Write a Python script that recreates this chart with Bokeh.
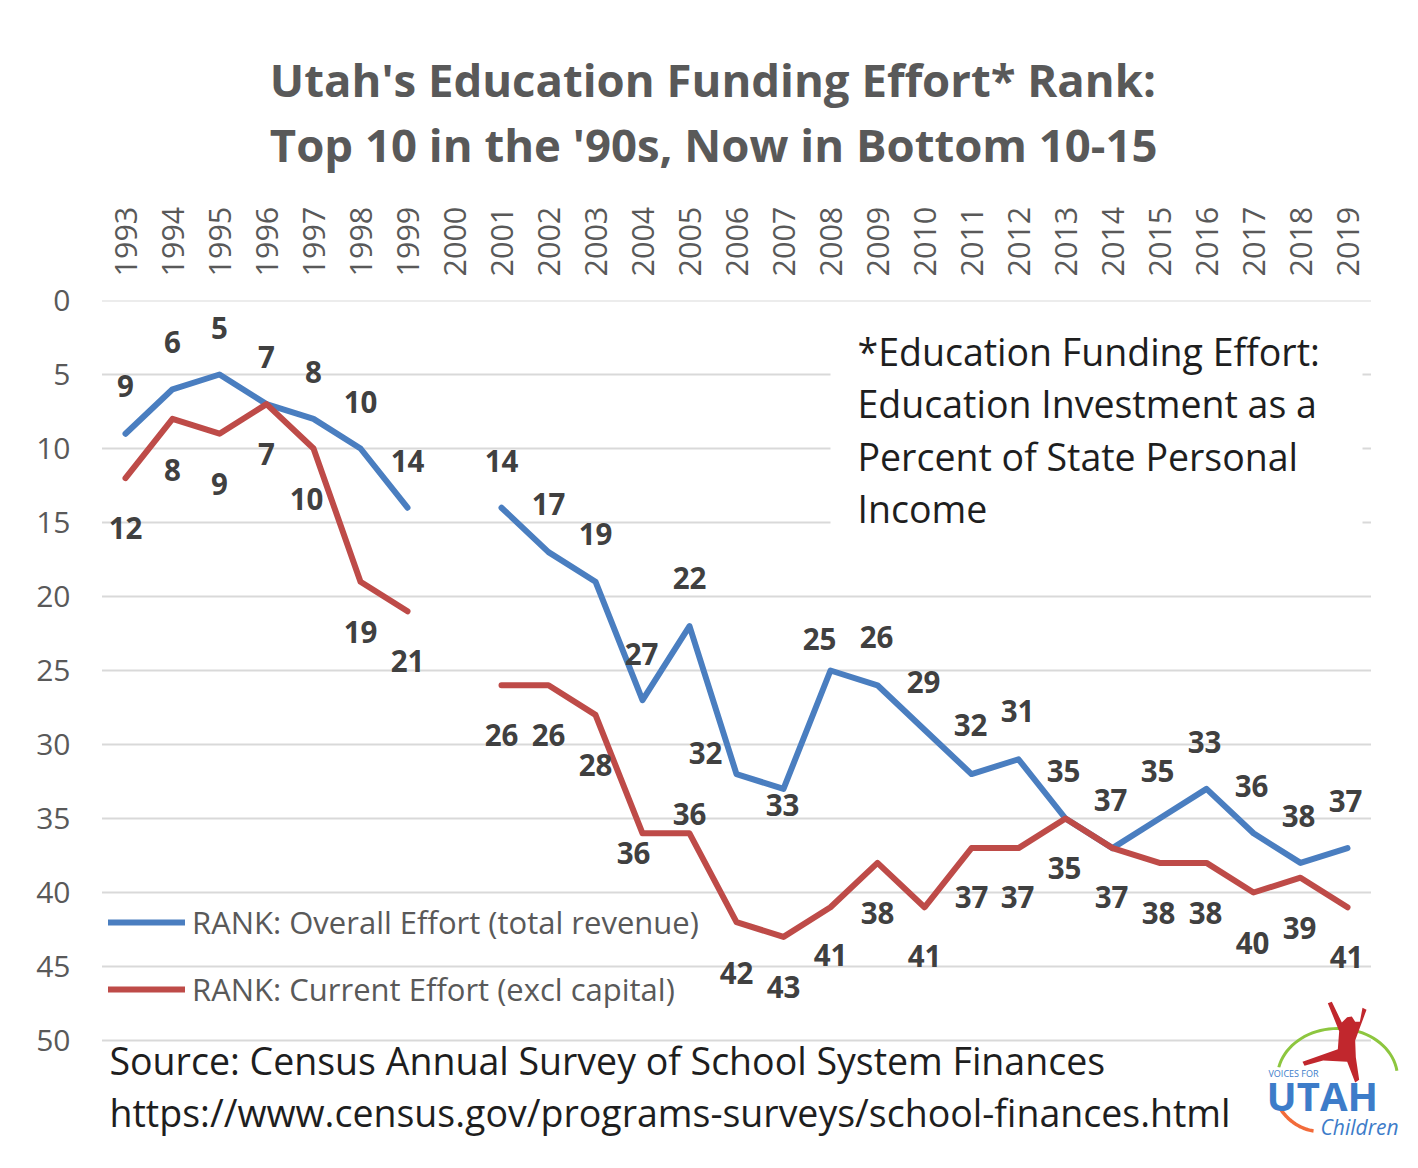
import numpy as np
from bokeh.plotting import figure
from bokeh.models import (Range1d, FixedTicker, Label, Legend, LegendItem,
                          BoxAnnotation, PolyAnnotation, ColumnDataSource, Title)
from bokeh.core.properties import value
from bokeh.embed import file_html
from bokeh.resources import INLINE

# ---------------- data ----------------
years = [str(y) for y in range(1993, 2020)]
overall = [9, 6, 5, 7, 8, 10, 14, None, 14, 17, 19, 27, 22, 32, 33, 25, 26,
           29, 32, 31, 35, 37, 35, 33, 36, 38, 37]
current = [12, 8, 9, 7, 10, 19, 21, None, 26, 26, 28, 36, 36, 42, 43, 41, 38,
           41, 37, 37, 35, 37, 38, 38, 40, 39, 41]
y_ticks = [0, 5, 10, 15, 20, 25, 30, 35, 40, 45, 50]
series_names = ["RANK: Overall Effort (total revenue)",
                "RANK: Current Effort (excl capital)"]
title_lines = ["Utah's Education Funding Effort* Rank:",
               "Top 10 in the '90s, Now in Bottom 10-15"]
note_lines = ["*Education Funding Effort:", "Education Investment as a",
              "Percent of State Personal", "Income"]
source_lines = ["Source: Census Annual Survey of School System Finances",
                "https://www.census.gov/programs-surveys/school-finances.html"]

# label placement offsets (pixels) for the data labels
blue_dx = [0, 0, 0, 0, 0, 0, 0, 0, 0, 0, 0, -1, 0, -31, -1, -11, -1, -1, -1, -1, -2, -2, -2, -2, -2, -2, -2]
blue_dy = [-48, -47, -47, -47, -47, -47, -47, 0, -47, -48, -48, -46, -48, -21, 16, -32, -48, -48, -49, -48, -48, -48, -48, -47, -47, -47, -47]
red_dx = [0, 0, 0, 0, -7, 0, 0, 0, 0, 0, 0, -9, 0, 0, 0, 0, 0, 0, 0, -1, -1, -1, -1, -1, -1, -1, -1]
red_dy = [50, 51, 50, 50, 50, 50, 50, 0, 50, 50, 50, 20, -19, 51, 50, 48, 50, 49, 49, 49, 49, 49, 50, 50, 50, 50, 50]

BLUE = "#4A7EC0"
RED = "#BE4B48"
GRID = "#D9D9D9"
AXIS_TXT = "#595959"
LBL_TXT = "#404040"
DARK = "#1E1E1E"
LOGO_BLUE = "#3D7CC9"
FONT = "Open Sans"

# ---------------- layout (pixels) ----------------
W, H = 1410, 1160
FRAME_L, FRAME_T = 101, 300          # frame left / top edge
X0_PX, PX_PER_YEAR = 125, 47.0       # pixel of first category, spacing
PX_PER_RANK = 14.8

xs = list(range(len(years)))
x_range = Range1d((FRAME_L - X0_PX) / PX_PER_YEAR, (W - X0_PX) / PX_PER_YEAR)
y_range = Range1d((H - FRAME_T) / PX_PER_RANK, 0)

p = figure(width=W, height=H, output_backend="svg", toolbar_location=None,
           x_range=x_range, y_range=y_range, x_axis_location="above",
           min_border_left=FRAME_L, min_border_right=0,
           min_border_top=FRAME_T, min_border_bottom=0)
p.outline_line_color = None
p.background_fill_color = "white"
p.border_fill_color = "white"
p.xgrid.visible = False
p.ygrid.visible = False

for ax in (p.xaxis[0], p.yaxis[0]):
    ax.axis_line_color = None
    ax.major_tick_line_color = None
    ax.minor_tick_line_color = None
    ax.major_label_text_font = FONT
    ax.major_label_text_color = AXIS_TXT

p.yaxis.ticker = FixedTicker(ticks=y_ticks)
p.yaxis.major_label_standoff = 25
p.yaxis.major_label_text_font_size = "30px"
p.xaxis.ticker = FixedTicker(ticks=xs)
p.xaxis.major_label_overrides = {i: y for i, y in enumerate(years)}
p.xaxis.major_label_orientation = np.pi / 2
p.xaxis.major_label_standoff = 18
p.xaxis.major_label_text_font_size = "30.5px"

# horizontal grid lines at the y ticks, spanning the category area only
n = len(y_ticks)
p.segment(x0=[-0.5] * n, x1=[len(years) - 0.5] * n, y0=y_ticks, y1=y_ticks,
          line_color=GRID, line_width=2)


def nanify(vals):
    return [np.nan if v is None else v for v in vals]


r_blue = p.line(xs, nanify(overall), line_color=BLUE, line_width=6,
                line_join="round", line_cap="round")
r_red = p.line(xs, nanify(current), line_color=RED, line_width=6,
               line_join="round", line_cap="round")


def label_source(vals, dx, dy):
    d = dict(x=[], y=[], t=[], dx=[], dy=[])
    for i, v in enumerate(vals):
        if v is None:
            continue
        d["x"].append(xs[i]); d["y"].append(v); d["t"].append(str(v))
        d["dx"].append(dx[i]); d["dy"].append(dy[i])
    return ColumnDataSource(d)


for vals, dx, dy in ((overall, blue_dx, blue_dy), (current, red_dx, red_dy)):
    p.text(x="x", y="y", text="t", x_offset="dx", y_offset="dy",
           source=label_source(vals, dx, dy),
           text_font=value(FONT), text_font_style="bold",
           text_font_size="29.5px", text_color=LBL_TXT,
           text_align="center", text_baseline="middle")

legend = Legend(items=[LegendItem(label=series_names[0], renderers=[r_blue]),
                       LegendItem(label=series_names[1], renderers=[r_red])],
                location=(7, H - 989 - 21), glyph_width=77, glyph_height=40,
                label_height=40, spacing=25, padding=0, margin=0,
                label_standoff=7, background_fill_alpha=0,
                border_line_color=None, label_text_font=FONT,
                label_text_font_size="31px", label_text_color=AXIS_TXT)
p.add_layout(legend)

# two-line title above the year axis
p.add_layout(Title(text="\n".join(title_lines), align="right", offset=W - 1157,
                   text_font=FONT, text_font_style="bold",
                   text_font_size="45.5px", text_line_height=1.05,
                   text_color=AXIS_TXT, standoff=56), "above")


# ---------- helpers: image pixel -> frame screen units ----------
def sx(px):
    return px - FRAME_L


def sy(py):
    return H - py


def add_text(text, px, py, size, color, align="left", style="normal"):
    p.add_layout(Label(x=sx(px), y=sy(py), x_units="screen", y_units="screen",
                       text=text, text_align=align, text_baseline="middle",
                       text_font=FONT, text_font_size=size,
                       text_font_style=style, text_color=color))


# note box (white background hides the grid lines)
p.add_layout(BoxAnnotation(left=(830 - X0_PX) / PX_PER_YEAR,
                           right=(1362 - X0_PX) / PX_PER_YEAR,
                           top=(315 - FRAME_T) / PX_PER_RANK,
                           bottom=(528 - FRAME_T) / PX_PER_RANK,
                           fill_color="white", fill_alpha=1, line_color=None,
                           level="annotation"))
for i, line in enumerate(note_lines):
    add_text(line, 857, 351 + 52.3 * i, "37.5px", DARK)

# source
for i, line in enumerate(source_lines):
    add_text(line, 109, 1060 + 52 * i, "37.5px", DARK)


# ---------------- logo ----------------
def band(cx, cy, rx, ry, t0, t1, w):
    t = np.radians(np.linspace(t0, t1, 40))
    ox = cx + (rx + w / 2) * np.cos(t); oy = cy - (ry + w / 2) * np.sin(t)
    ix = cx + (rx - w / 2) * np.cos(t[::-1]); iy = cy - (ry - w / 2) * np.sin(t[::-1])
    return [sx(v) for v in np.r_[ox, ix]], [sy(v) for v in np.r_[oy, iy]]


gx, gy = band(1337, 1077, 60, 49, 8, 168, 3)
p.add_layout(PolyAnnotation(xs=gx, ys=gy, xs_units="screen", ys_units="screen",
                            fill_color="#8DC63F", fill_alpha=1, line_color=None))
ox_, oy_ = band(1320, 1075, 50, 56, 215, 262, 3.5)
p.add_layout(PolyAnnotation(xs=ox_, ys=oy_, xs_units="screen", ys_units="screen",
                            fill_color="#F26B3A", fill_alpha=1, line_color=None))

fig_pts = [(262, 38), (274, 34), (304, 96), (320, 80), (334, 78), (344, 94),
           (358, 94), (366, 52), (378, 58), (358, 112), (344, 150), (346, 200),
           (356, 268), (344, 276), (320, 214), (248, 210), (192, 226),
           (186, 214), (292, 176), (296, 122)]
p.add_layout(PolyAnnotation(xs=[sx(1240 + a / 3) for a, b in fig_pts],
                            ys=[sy(990 + b / 3) for a, b in fig_pts],
                            xs_units="screen", ys_units="screen",
                            fill_color="#C1272D", fill_alpha=1, line_color=None))

add_text("VOICES FOR", 1268, 1073, "9px", LOGO_BLUE)
add_text("UTAH", 1266, 1095, "40px", LOGO_BLUE, style="bold")
add_text("Children", 1320, 1126, "21px", LOGO_BLUE, style="italic")

open("out.html", "w").write(file_html(p, INLINE))
